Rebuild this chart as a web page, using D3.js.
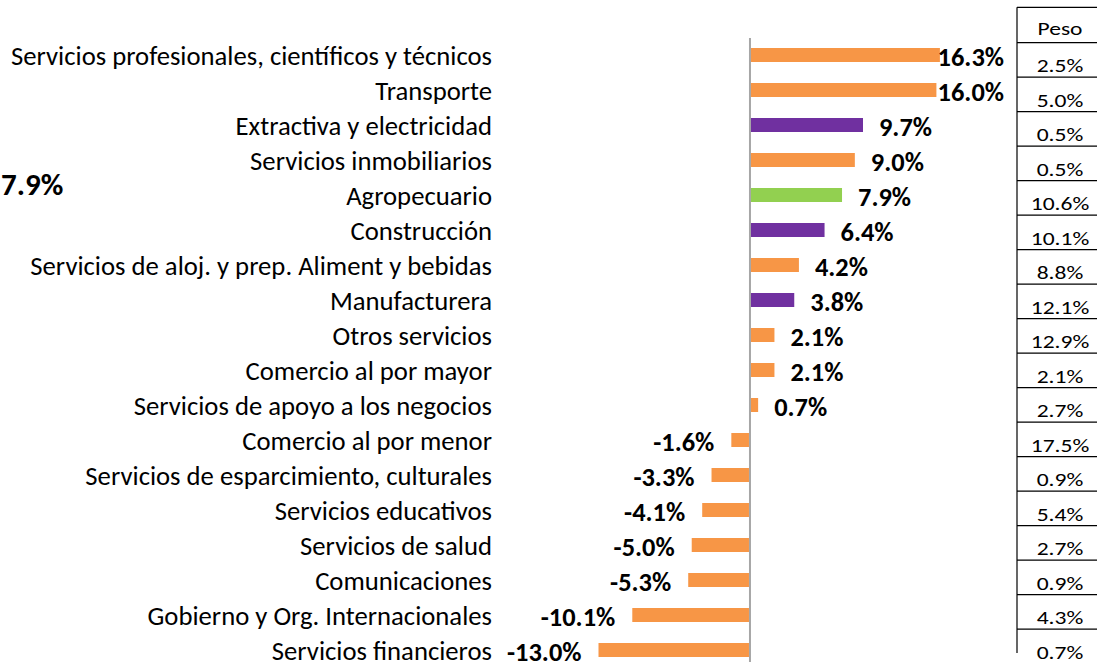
<!DOCTYPE html>
<html>
<head>
<meta charset="utf-8">
<script src="https://cdn.jsdelivr.net/npm/d3@7"></script>
<style>
  body { margin: 0; background: #fff; }
  svg { display: block; }
  text { font-family: Carlito, Calibri, Lato, sans-serif; }
</style>
</head>
<body>
<svg id="chart" width="1097" height="662"></svg>
<script>
// data
const categories = [
  "Servicios profesionales, científicos y técnicos",
  "Transporte",
  "Extractiva y electricidad",
  "Servicios inmobiliarios",
  "Agropecuario",
  "Construcción",
  "Servicios de aloj. y prep. Aliment y bebidas",
  "Manufacturera",
  "Otros servicios",
  "Comercio al por mayor",
  "Servicios de apoyo a los negocios",
  "Comercio al por menor",
  "Servicios de esparcimiento, culturales",
  "Servicios educativos",
  "Servicios de salud",
  "Comunicaciones",
  "Gobierno y Org. Internacionales",
  "Servicios financieros"
];
const growth = [16.3, 16.0, 9.7, 9.0, 7.9, 6.4, 4.2, 3.8, 2.1, 2.1, 0.7, -1.6, -3.3, -4.1, -5.0, -5.3, -10.1, -13.0];
const sector = ["s", "s", "i", "s", "p", "i", "s", "i", "s", "s", "s", "s", "s", "s", "s", "s", "s", "s"];
const peso = ["2.5%", "5.0%", "0.5%", "0.5%", "10.6%", "10.1%", "8.8%", "12.1%", "12.9%", "2.1%", "2.7%", "17.5%", "0.9%", "5.4%", "2.7%", "0.9%", "4.3%", "0.7%"];
const totalLabel = "7.9%";
const pesoHeader = "Peso";

const colors = { s: "#F79646", i: "#7030A0", p: "#92D050" };

const svg = d3.select("#chart");
const fmt = d => d.toFixed(1) + "%";

const x = d3.scaleLinear().domain([-13, 16.3]).range([598.5, 939.9]);
const y = d3.scaleBand().domain(categories).range([37.5, 667.5]).paddingInner(0.6).paddingOuter(0.3);
// the side table is a little tighter than the bars
const yt = d3.scaleBand().domain(categories).range([42.7, 42.7 + 34.5 * categories.length]);
const rows = categories.map((c, i) => ({ c: c, v: growth[i], s: sector[i], p: peso[i] }));
const mid = d => y(d.c) + y.bandwidth() / 2;

// zero axis
svg.append("line")
    .attr("x1", x(0)).attr("x2", x(0))
    .attr("y1", 38).attr("y2", 662)
    .attr("stroke", "#a6a6a6").attr("stroke-width", 2);

// bars
svg.selectAll("rect.bar").data(rows).enter().append("rect")
    .attr("class", "bar")
    .attr("x", d => x(Math.min(0, d.v)) + (d.v < 0 ? 0 : 1))
    .attr("y", d => y(d.c))
    .attr("width", d => Math.abs(x(d.v) - x(0)) - 1)
    .attr("height", y.bandwidth())
    .attr("fill", d => colors[d.s]);

// category labels
svg.selectAll("text.cat").data(rows).enter().append("text")
    .attr("class", "cat")
    .attr("x", 492)
    .attr("y", d => mid(d) + 10)
    .attr("text-anchor", "end")
    .attr("font-size", 26.7)
    .attr("fill", "#000")
    .text(d => d.c);

// value labels
const plotRight = 1004;
svg.selectAll("text.val").data(rows).enter().append("text")
    .attr("class", "val")
    .attr("y", d => mid(d) + 10.5)
    .attr("font-size", 26.4)
    .attr("font-weight", "bold")
    .attr("fill", "#000")
    .text(d => fmt(d.v))
    .each(function(d) {
        const t = d3.select(this);
        if (d.v >= 0) {
            const w = this.getComputedTextLength();
            t.attr("text-anchor", "start").attr("x", Math.min(x(d.v) + 16, plotRight - w));
        } else {
            t.attr("text-anchor", "end").attr("x", x(d.v) - 17);
        }
    });

// big total label on the left
svg.append("text")
    .attr("x", 1).attr("y", 195)
    .attr("font-size", 31)
    .attr("font-weight", "bold")
    .text(totalLabel);

// weight table (pasted in slightly stretched, so its text is widened)
const tLeft = 1017, tRight = 1110, tTop = 7.3, tx = 1060, sx = 1.24;
const table = svg.append("g");
table.append("line")
    .attr("x1", tLeft).attr("x2", tLeft)
    .attr("y1", tTop).attr("y2", 653)
    .attr("stroke", "#000").attr("stroke-width", 1.2);
table.append("line")
    .attr("x1", tLeft).attr("x2", tRight)
    .attr("y1", tTop).attr("y2", tTop)
    .attr("stroke", "#000").attr("stroke-width", 1.2);
table.selectAll("line.row").data(rows).enter().append("line")
    .attr("class", "row")
    .attr("x1", tLeft).attr("x2", tRight)
    .attr("y1", d => yt(d.c)).attr("y2", d => yt(d.c))
    .attr("stroke", "#000").attr("stroke-width", 1.2);
table.append("text")
    .attr("transform", `translate(${tx},${tTop + 28}) scale(${sx},1)`)
    .attr("text-anchor", "middle")
    .attr("font-size", 19)
    .text(pesoHeader);
table.selectAll("text.peso").data(rows).enter().append("text")
    .attr("class", "peso")
    .attr("transform", d => `translate(${tx},${yt(d.c) + 29.3}) scale(${sx},1)`)
    .attr("text-anchor", "middle")
    .attr("font-size", 19)
    .text(d => d.p);
</script>
</body>
</html>
